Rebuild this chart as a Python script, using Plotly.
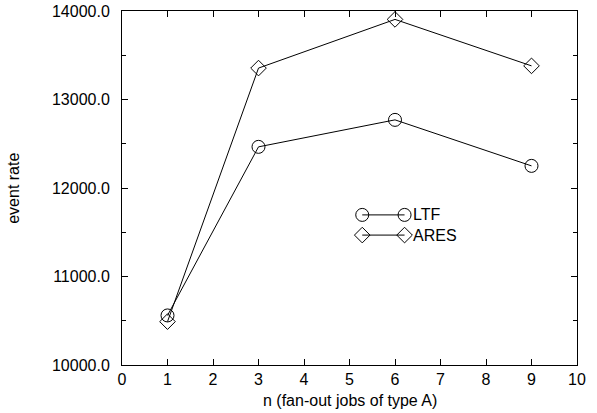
import plotly.graph_objects as go

n_jobs = [1, 3, 6, 9]
ltf_rate = [10560, 12465, 12770, 12250]
ares_rate = [10490, 13355, 13905, 13380]

x_ticks = list(range(0, 11))
y_ticks = [10000, 11000, 12000, 13000, 14000]
y_tick_text = [f"{v:.1f}" for v in y_ticks]

FONT = "Liberation Sans, Arial, sans-serif"
BLACK = "black"

fig = go.Figure()
fig.add_trace(go.Scatter(
    x=n_jobs, y=ltf_rate, mode="lines+markers", name="LTF",
    line=dict(color=BLACK, width=1),
    marker=dict(symbol="circle-open", size=13, color=BLACK, line=dict(width=1)),
    showlegend=False, cliponaxis=False))
fig.add_trace(go.Scatter(
    x=n_jobs, y=ares_rate, mode="lines+markers", name="ARES",
    line=dict(color=BLACK, width=1),
    marker=dict(symbol="diamond-open", size=12, color=BLACK, line=dict(width=1)),
    showlegend=False, cliponaxis=False))

# custom legend (line with a marker at each end), drawn on an overlay axis in domain units
leg_x = [0.528, 0.621]
leg_rows = [("LTF", "circle-open", 13, 0.424), ("ARES", "diamond-open", 12, 0.367)]
annotations = []
for name, sym, sz, ly in leg_rows:
    fig.add_trace(go.Scatter(
        x=leg_x, y=[ly, ly], xaxis="x2", yaxis="y2", mode="lines+markers",
        line=dict(color=BLACK, width=1),
        marker=dict(symbol=sym, size=sz, color=BLACK, line=dict(width=1)),
        showlegend=False, hoverinfo="skip", cliponaxis=False))
    annotations.append(dict(x=leg_x[1] + 0.015, y=ly, xref="x2", yref="y2", text=name,
                            showarrow=False, xanchor="left", yanchor="middle",
                            font=dict(family=FONT, size=16, color=BLACK)))

annotations += [
    dict(text="n (fan-out jobs of type A)", xref="paper", yref="paper",
         x=0.5, y=-0.072, xanchor="center", yanchor="top", showarrow=False,
         font=dict(family=FONT, size=16, color=BLACK)),
    dict(text="event rate", xref="paper", yref="paper", x=-0.24, y=0.5,
         xanchor="center", yanchor="middle", textangle=-90, showarrow=False,
         font=dict(family=FONT, size=16, color=BLACK)),
]

fig.update_layout(
    width=597, height=413,
    margin=dict(l=122, r=20, t=11, b=48, autoexpand=False),
    paper_bgcolor="white", plot_bgcolor="white",
    font=dict(family=FONT, size=16, color=BLACK),
    xaxis=dict(range=[0, 10], tickvals=x_ticks, ticks="inside", ticklen=6,
               tickcolor=BLACK, showline=True, linecolor=BLACK, linewidth=1,
               mirror="ticks", showgrid=False, zeroline=False, automargin=False,
               tickfont=dict(size=16)),
    yaxis=dict(range=[10000, 14000], tickvals=y_ticks, ticktext=y_tick_text,
               ticks="inside", ticklen=6, tickcolor=BLACK, showline=True,
               linecolor=BLACK, linewidth=1, mirror="ticks", showgrid=False,
               zeroline=False, ticklabelstandoff=8, tickfont=dict(size=16),
               automargin=False,
               minor=dict(dtick=500, ticks="inside", ticklen=4, tickcolor=BLACK,
                          showgrid=False)),
    xaxis2=dict(overlaying="x", range=[0, 1], visible=False, automargin=False),
    yaxis2=dict(overlaying="y", range=[0, 1], visible=False, automargin=False),
    annotations=annotations,
)

fig.write_html("out.html")
